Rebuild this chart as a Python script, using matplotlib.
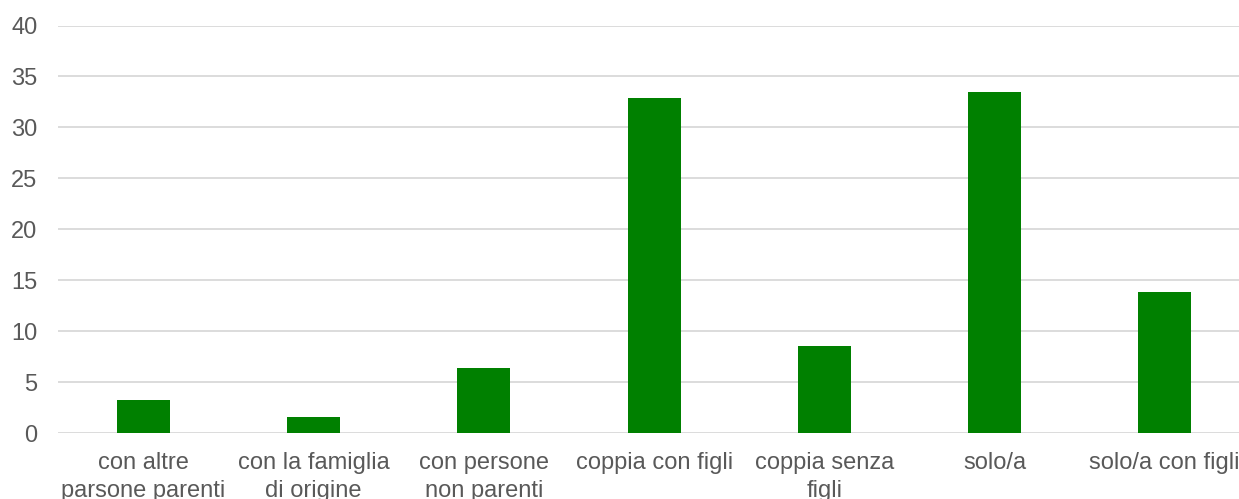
import matplotlib.pyplot as plt

categories = ["con altre\nparsone parenti", "con la famiglia\ndi origine", "con persone\nnon parenti",
              "coppia con figli", "coppia senza\nfigli", "solo/a", "solo/a con figli"]
values = [3.2, 1.6, 6.4, 32.9, 8.5, 33.5, 13.8]

plt.rcParams['font.family'] = ['Liberation Sans', 'DejaVu Sans']

fig = plt.figure(figsize=(12.39, 4.99), dpi=100)
# plot area runs a little past the right edge of the picture
ax = fig.add_axes([58.4 / 1239, 66 / 499, 1191.4 / 1239, 407.5 / 499])

ax.bar(range(len(categories)), values, width=0.311, color='#008000', zorder=3)
ax.set_xlim(-0.5, len(categories) - 0.5)
ax.set_ylim(0, 40)
ax.set_yticks(range(0, 41, 5))
ax.set_xticks(range(len(categories)))
ax.set_xticklabels(categories, linespacing=1.3)
ax.grid(axis='y', color='#d9d9d9', linewidth=1.3, zorder=0)
for s in ax.spines.values():
    s.set_visible(False)
ax.tick_params(length=0, labelsize=17, colors='#595959')
ax.tick_params(axis='y', pad=15)
ax.tick_params(axis='x', pad=14)

fig.savefig('out.png', dpi=100)
